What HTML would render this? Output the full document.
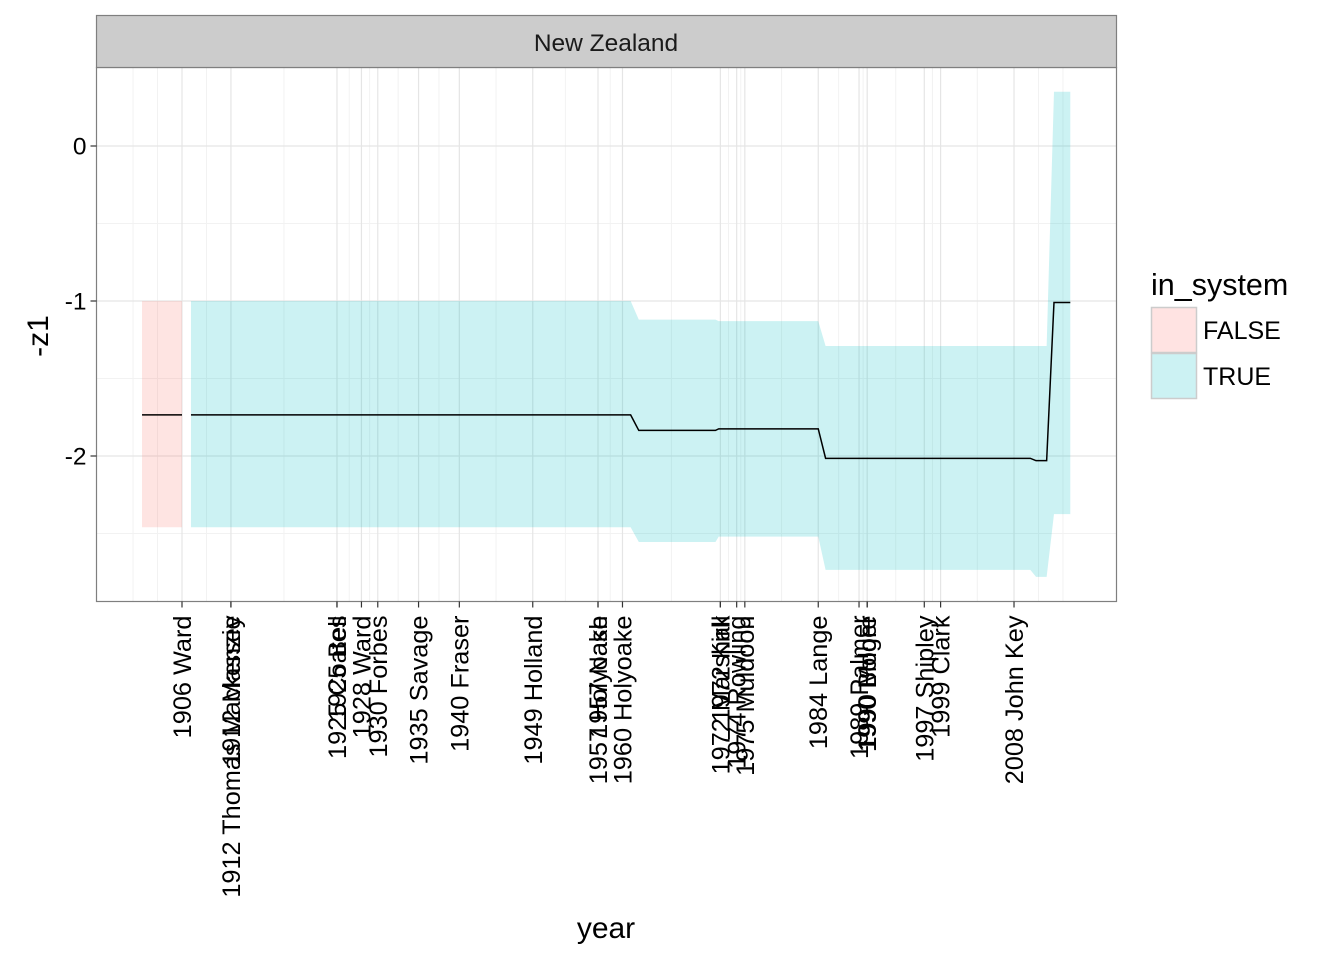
<!DOCTYPE html>
<html><head><meta charset="utf-8"><style>
html,body{margin:0;padding:0;background:#fff;}
svg{display:block;font-family:"Liberation Sans",sans-serif;}
</style></head><body>
<svg id="chart" width="1344" height="960" xmlns="http://www.w3.org/2000/svg">
<g id="grid"></g>
<g id="marks"></g>
<rect x="96.5" y="67.5" width="1020" height="534" fill="none" stroke="#7f7f7f" stroke-width="1.2"/>
<rect x="96.5" y="15.5" width="1020" height="52" fill="#cccccc" stroke="#7f7f7f" stroke-width="1.2"/>
<text x="606" y="51" text-anchor="middle" font-size="24.5" fill="#1a1a1a">New Zealand</text>
<g id="yaxis"></g>
<g id="xaxis"></g>
<text x="606" y="938" text-anchor="middle" font-size="30" fill="#000">year</text>
<text transform="translate(48,336) rotate(-90)" text-anchor="middle" font-size="30" fill="#000">-z1</text>
<g>
<text x="1151" y="295" font-size="30.5" fill="#000">in_system</text>
<rect x="1151.5" y="307.5" width="45" height="45" fill="#ffe3e2" stroke="#cccccc" stroke-width="1.5"/>
<rect x="1151.5" y="353.5" width="45" height="45" fill="#ccf2f3" stroke="#cccccc" stroke-width="1.5"/>
<text x="1203" y="339" font-size="25" fill="#000">FALSE</text>
<text x="1203" y="385" font-size="25" fill="#000">TRUE</text>
</g>
</svg>
<script>
const breakYears=[1906,1912,1912,1925,1925,1928,1930,1935,1940,1949,1957,1957,1960,1972,1972,1974,1975,1984,1989,1990,1990,1997,1999,2008];
const breakLabels=["1906 Ward","1912 Thomas Mackenzie","1912 Massey","1925 Bell","1925 Coates","1928 Ward","1930 Forbes","1935 Savage","1940 Fraser","1949 Holland","1957 Holyoake","1957 Nash","1960 Holyoake","1972 Marshall","1972 Kirk","1974 Rowling","1975 Muldoon","1984 Lange","1989 Palmer","1990 Moore","1990 Bolger","1997 Shipley","1999 Clark","2008 John Key"];
const yTicks=[0,-1,-2];
const yTickLabels=["0","-1","-2"];
const yMinor=[-0.5,-1.5,-2.5];
const falseYears=[1901.1,1906];
const falseMean=[-1.735,-1.735];
const falseUpper=[-1.0,-1.0];
const falseLower=[-2.46,-2.46];
const trueYears=[1907.1,1961.0,1962.0,1971.4,1971.8,1984.0,1984.9,2010.0,2010.7,2012.0,2012.9,2014.9];
const trueMean=[-1.735,-1.735,-1.835,-1.835,-1.825,-1.825,-2.015,-2.015,-2.03,-2.03,-1.01,-1.01];
const trueUpper=[-1.0,-1.0,-1.12,-1.12,-1.13,-1.13,-1.29,-1.29,-1.29,-1.29,0.35,0.35];
const trueLower=[-2.46,-2.46,-2.555,-2.555,-2.52,-2.52,-2.735,-2.735,-2.78,-2.78,-2.375,-2.375];

const NS="http://www.w3.org/2000/svg";
const X=y=>182+(y-1906)*8.157;
const Y=v=>146-v*155;
const PL=96.5,PR=1116.5,PT=67.5,PB=601.5;
function mk(tag,attrs,parent){const e=document.createElementNS(NS,tag);for(const k in attrs)e.setAttribute(k,attrs[k]);parent.appendChild(e);return e;}
const grid=document.getElementById('grid'),marks=document.getElementById('marks');
const yax=document.getElementById('yaxis'),xax=document.getElementById('xaxis');
mk('rect',{x:PL,y:PT,width:PR-PL,height:PB-PT,fill:'#fff'},grid);
const uniq=[...new Set(breakYears)];
const minorX=[uniq[0]-6,uniq[0]-3];
for(let i=0;i<uniq.length-1;i++)minorX.push((uniq[i]+uniq[i+1])/2);
minorX.push(uniq[uniq.length-1]+3,uniq[uniq.length-1]+6);
minorX.forEach(v=>{const l=mk('line',{x1:X(v),x2:X(v),y1:PT,y2:PB,stroke:'#f2f2f2','stroke-width':1},grid);

});
yMinor.forEach(v=>{const l=mk('line',{x1:PL,x2:PR,y1:Y(v),y2:Y(v),stroke:'#f2f2f2','stroke-width':1},grid);

});
uniq.forEach(v=>{const l=mk('line',{x1:X(v),x2:X(v),y1:PT,y2:PB,stroke:'#e5e5e5','stroke-width':1.2},grid);

});
yTicks.forEach(v=>{const l=mk('line',{x1:PL,x2:PR,y1:Y(v),y2:Y(v),stroke:'#e5e5e5','stroke-width':1.2},grid);

});
function ribbon(xs,up,lo,fill,name){
 let d='M'+xs.map((x,i)=>X(x)+','+Y(up[i])).join('L');
 for(let i=xs.length-1;i>=0;i--)d+='L'+X(xs[i])+','+Y(lo[i]);
 const p=mk('path',{d:d+'Z',fill:fill,'fill-opacity':0.2},marks);
 
 
}
function line(xs,ys,name){
 const p=mk('path',{d:'M'+xs.map((x,i)=>X(x)+','+Y(ys[i])).join('L'),fill:'none',stroke:'#000','stroke-width':1.5},marks);
 
 
}
ribbon(falseYears,falseUpper,falseLower,'#F8766D','ribbon-false');
ribbon(trueYears,trueUpper,trueLower,'#00BFC4','ribbon-true');
line(falseYears,falseMean,'line-false');
line(trueYears,trueMean,'line-true');
yTicks.forEach((v,i)=>{
 const t=mk('line',{x1:PL-6,x2:PL,y1:Y(v),y2:Y(v),stroke:'#333','stroke-width':1.2},yax);
 
 
 const tx=mk('text',{x:PL-10,y:Y(v)+8.5,'text-anchor':'end','font-size':24.5,fill:'#000'},yax);
 tx.textContent=yTickLabels[i];
 
 
});
breakYears.forEach((v,i)=>{
 const t=mk('line',{x1:X(v),x2:X(v),y1:PB,y2:PB+6,stroke:'#333','stroke-width':1.2},xax);
 
 
 const tx=mk('text',{transform:'translate('+(X(v)+9)+','+(PB+14)+') rotate(-90)','text-anchor':'end','font-size':25.3,fill:'#000'},xax);
 tx.textContent=breakLabels[i];
 
 
});
</script>
</body></html>
